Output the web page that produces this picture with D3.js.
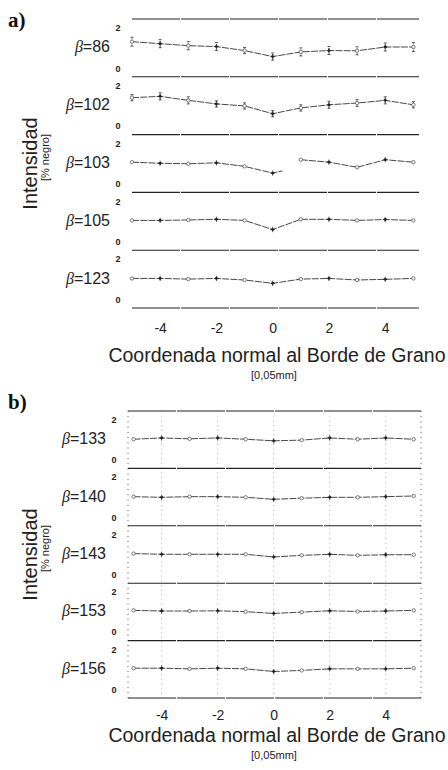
<!DOCTYPE html>
<html>
<head>
<meta charset="utf-8">
<script src="https://cdn.jsdelivr.net/npm/d3@7"></script>
<style>
  body { margin: 0; background: #fff; }
  svg { display: block; }
</style>
</head>
<body>
<svg id="chart" width="448" height="770"></svg>
<script>
// positions along the grain boundary normal, units of 0.05 mm
var xs = [-5, -4, -3, -2, -1, 0, 1, 2, 3, 4, 5];
var xTicks = [-4, -2, 0, 2, 4];
var yTicks = [0, 2];

// panel a
var betasA = ["86", "102", "103", "105", "123"];
var b86  = [1.28, 1.19, 1.10, 1.06, 0.88, 0.61, 0.82, 0.88, 0.87, 1.04, 1.04];
var b102 = [1.36, 1.42, 1.24, 1.08, 0.99, 0.64, 0.90, 1.04, 1.12, 1.24, 1.04];
var b103 = [1.06, 1.01, 0.99, 1.03, 0.87, 0.57, 1.17, 1.06, 0.83, 1.17, 1.06];
var b105 = [1.04, 1.04, 1.06, 1.09, 1.04, 0.63, 1.09, 1.09, 1.04, 1.08, 1.04];
var b123 = [1.03, 1.03, 1.00, 1.03, 0.96, 0.81, 1.00, 1.03, 0.96, 0.99, 1.03];
var err86  = [0.20, 0.18, 0.18, 0.18, 0.14, 0.16, 0.18, 0.18, 0.18, 0.18, 0.20];
var err102 = [0.14, 0.16, 0.16, 0.14, 0.14, 0.14, 0.14, 0.16, 0.16, 0.16, 0.14];

// panel b
var betasB = ["133", "140", "143", "153", "156"];
var b133 = [1.02, 1.08, 1.04, 1.08, 1.02, 0.95, 0.98, 1.08, 1.02, 1.08, 1.02];
var b140 = [1.02, 0.99, 1.02, 1.02, 0.99, 0.90, 0.95, 0.99, 0.99, 1.02, 1.05];
var b143 = [1.04, 1.01, 1.01, 1.01, 1.01, 0.89, 0.96, 1.01, 0.96, 0.99, 0.99];
var b153 = [1.07, 1.04, 1.04, 1.05, 1.01, 0.93, 0.99, 1.05, 1.02, 1.04, 1.07];
var b156 = [1.05, 1.05, 1.02, 1.05, 1.02, 0.90, 0.95, 1.02, 1.02, 1.02, 1.05];

var svg = d3.select("#chart");
var sans = "'Liberation Sans', Arial, sans-serif";
var serif = "'Liberation Serif', 'Times New Roman', serif";

function drawPanel(cfg) {
    var g = svg.append("g");
    var x = d3.scaleLinear().domain(cfg.xDomain).range(cfg.xRange);
    var band = d3.scaleBand().domain(cfg.betas).range([cfg.top, cfg.bottom]);

    // vertical dotted guides (panel b only)
    if (cfg.guides) {
        g.selectAll(".guide")
            .data(xTicks)
            .enter().append("line")
            .attr("x1", d => x(d)).attr("x2", d => x(d))
            .attr("y1", cfg.top).attr("y2", cfg.bottom)
            .attr("stroke", "#666").attr("stroke-width", 0.8)
            .attr("stroke-dasharray", "1.2,3.5").attr("opacity", 0.55);
        g.selectAll(".edge")
            .data(cfg.xDomain)
            .enter().append("line")
            .attr("x1", d => x(d)).attr("x2", d => x(d))
            .attr("y1", cfg.top).attr("y2", cfg.bottom)
            .attr("stroke", "#444").attr("stroke-width", 0.8)
            .attr("stroke-dasharray", "1.2,4");
    }

    // frame lines between stacked plots
    var bounds = cfg.betas.map(b => band(b)).concat([cfg.bottom]);
    g.selectAll(".frame")
        .data(bounds)
        .enter().append("line")
        .attr("x1", cfg.xRange[0]).attr("x2", cfg.xRange[1])
        .attr("y1", d => d).attr("y2", d => d)
        .attr("stroke", "#222").attr("stroke-width", 1.1)
        .attr("stroke-dasharray", "48,1");

    cfg.betas.forEach(function (b, i) {
        var vals = cfg.values[i];
        var y = d3.scaleLinear().domain([-0.3, 2.3])
            .range([band(b) + band.bandwidth(), band(b)]);
        var sub = g.append("g");

        // y tick labels 0 / 2
        var ax = sub.append("g")
            .attr("transform", "translate(" + (cfg.xRange[0] - 12) + ",0)")
            .call(d3.axisLeft(y).tickValues(yTicks).tickSize(0).tickFormat(d3.format("d")));
        ax.select(".domain").remove();
        ax.selectAll("text")
            .attr("x", -2)
            .attr("dy", d => d === 2 ? "0.55em" : "0.1em")
            .attr("text-anchor", "middle")
            .style("font-family", sans).style("font-size", "9px")
            .style("font-weight", "bold").attr("fill", "#222");

        // beta label
        var lab = sub.append("text")
            .attr("x", cfg.xRange[0] - 22)
            .attr("y", y(1.05))
            .attr("dy", "0.35em")
            .attr("text-anchor", "end")
            .attr("fill", "#222")
            .style("font-size", "16px");
        lab.append("tspan").style("font-family", serif).style("font-style", "italic").text("\u03b2");
        lab.append("tspan").style("font-family", sans).text("=" + b);

        // data line, broken where the scan shows a gap
        var pts = xs.map((v, k) => [v, vals[k]]);
        var segs = [pts];
        if (cfg.breaks && cfg.breaks[i] != null) {
            var k = cfg.breaks[i];
            segs = [pts.slice(0, k + 1).concat([[xs[k] + 0.35, vals[k] + 0.1]]), pts.slice(k + 1)];
        }
        var line = d3.line().x(d => x(d[0])).y(d => y(d[1]));
        sub.selectAll(".dl")
            .data(segs)
            .enter().append("path")
            .attr("d", line)
            .attr("fill", "none")
            .attr("stroke", "#333").attr("stroke-width", 0.9)
            .attr("stroke-dasharray", "7,1.2");

        // error bars
        var errs = cfg.errors ? cfg.errors[i] : null;
        if (errs) {
            var eb = sub.selectAll(".eb").data(pts).enter().append("g");
            eb.append("line")
                .attr("x1", d => x(d[0])).attr("x2", d => x(d[0]))
                .attr("y1", (d, k) => y(d[1] - errs[k])).attr("y2", (d, k) => y(d[1] + errs[k]))
                .attr("stroke", "#333").attr("stroke-width", 0.8)
                .attr("stroke-dasharray", "1.5,1");
            [-1, 1].forEach(function (s) {
                eb.append("line")
                    .attr("x1", d => x(d[0]) - 1.5).attr("x2", d => x(d[0]) + 1.5)
                    .attr("y1", (d, k) => y(d[1] + s * errs[k]))
                    .attr("y2", (d, k) => y(d[1] + s * errs[k]))
                    .attr("stroke", "#333").attr("stroke-width", 0.8);
            });
        }

        // markers: crosses on even positions, open circles on odd
        sub.selectAll(".mk")
            .data(pts.filter(d => d[0] % 2 !== 0))
            .enter().append("circle")
            .attr("cx", d => x(d[0])).attr("cy", d => y(d[1]))
            .attr("r", 1.7)
            .attr("fill", "#fff").attr("stroke", "#444").attr("stroke-width", 0.7);
        var cr = sub.selectAll(".cr")
            .data(pts.filter(d => d[0] % 2 === 0))
            .enter().append("g")
            .attr("transform", d => "translate(" + x(d[0]) + "," + y(d[1]) + ")");
        cr.append("circle").attr("r", 1.4).attr("fill", "#222");
        cr.append("line").attr("x1", -2.2).attr("x2", 2.2).attr("stroke", "#222").attr("stroke-width", 0.8);
        cr.append("line").attr("y1", -2.6).attr("y2", 2.6).attr("stroke", "#222").attr("stroke-width", 0.8);
    });

    // x tick labels
    var xa = g.append("g")
        .attr("transform", "translate(0," + cfg.tickY + ")")
        .call(d3.axisBottom(x).tickValues(xTicks).tickSize(0).tickFormat(d => String(d)));
    xa.select(".domain").remove();
    xa.selectAll("text")
        .attr("y", 0).attr("dy", 0)
        .style("font-family", sans).style("font-size", "14px").attr("fill", "#222");

    // titles
    g.append("text")
        .attr("x", 277).attr("y", cfg.titleY)
        .attr("text-anchor", "middle")
        .style("font-family", sans).style("font-size", "19.5px").attr("fill", "#222")
        .text("Coordenada normal al Borde de Grano");
    g.append("text")
        .attr("x", 274).attr("y", cfg.titleY + 17)
        .attr("text-anchor", "middle")
        .style("font-family", sans).style("font-size", "11px").attr("fill", "#222")
        .text("[0,05mm]");

    var mid = (cfg.top + cfg.bottom) / 2;
    g.append("text")
        .attr("transform", "translate(37," + mid + ") rotate(-90)")
        .attr("text-anchor", "middle")
        .style("font-family", sans).style("font-size", "20px").attr("fill", "#222")
        .text("Intensidad");
    g.append("text")
        .attr("transform", "translate(49," + (mid - 6) + ") rotate(-90)")
        .attr("text-anchor", "middle")
        .style("font-family", sans).style("font-size", "11px").attr("fill", "#222")
        .text("[% negro]");

    g.append("text")
        .attr("x", 8).attr("y", cfg.letterY)
        .style("font-family", serif).style("font-size", "21px").style("font-weight", "bold")
        .attr("fill", "#111")
        .text(cfg.letter);
}

drawPanel({
    letter: "a)", letterY: 27,
    betas: betasA,
    values: [b86, b102, b103, b105, b123],
    errors: [err86, err102, null, null, null],
    breaks: [null, null, 5, null, null],
    xDomain: [-5, 5.2], xRange: [132, 419],
    top: 19, bottom: 308,
    tickY: 333, titleY: 362,
    guides: false
});

drawPanel({
    letter: "b)", letterY: 409,
    betas: betasB,
    values: [b133, b140, b143, b153, b156],
    xDomain: [-5.2, 5.26], xRange: [128, 421],
    top: 411, bottom: 698,
    tickY: 720, titleY: 742,
    guides: true
});
</script>
</body>
</html>
